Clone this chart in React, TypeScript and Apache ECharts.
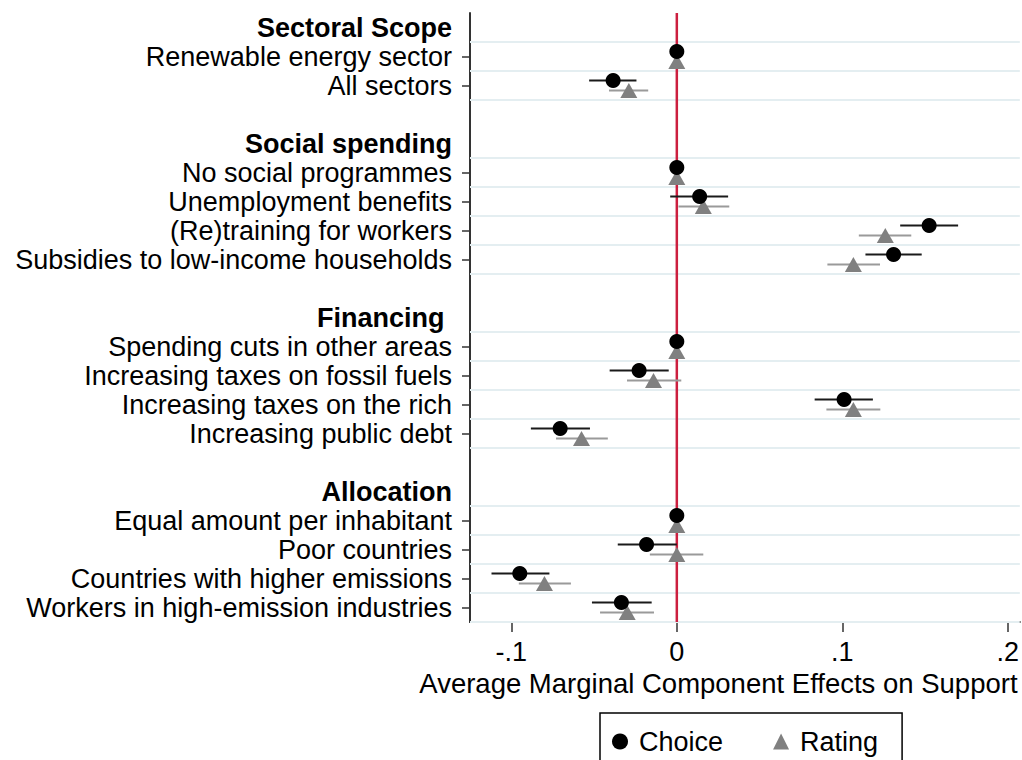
import React, { useEffect, useRef } from "react";
import * as echarts from "echarts";

// ---------- data ----------
const groupTitles = ["Sectoral Scope", "Social spending", "Financing ", "Allocation"];
const groupItems = [
  ["Renewable energy sector", "All sectors"],
  ["No social programmes", "Unemployment benefits", "(Re)training for workers", "Subsidies to low-income households"],
  ["Spending cuts in other areas", "Increasing taxes on fossil fuels", "Increasing taxes on the rich", "Increasing public debt"],
  ["Equal amount per inhabitant", "Poor countries", "Countries with higher emissions", "Workers in high-emission industries"],
];
const choiceEst = [[0, -0.0385], [0, 0.0138, 0.1525, 0.131], [0, -0.0228, 0.1011, -0.0705], [0, -0.0183, -0.0949, -0.0335]];
const choiceLo = [[null, -0.053], [null, -0.004, 0.135, 0.114], [null, -0.0406, 0.0833, -0.0882], [null, -0.0357, -0.112, -0.0513]];
const choiceHi = [[null, -0.0244], [null, 0.031, 0.17, 0.148], [null, -0.0049, 0.1185, -0.0525], [null, 0, -0.077, -0.0152]];
const ratingEst = [[0, -0.029], [0, 0.016, 0.126, 0.1067], [0, -0.0141, 0.1067, -0.0576], [0, 0, -0.08, -0.03]];
const ratingLo = [[null, -0.041], [null, 0.001, 0.11, 0.091], [null, -0.0301, 0.0904, -0.073], [null, -0.0163, -0.0955, -0.0464]];
const ratingHi = [[null, -0.0173], [null, 0.0317, 0.1417, 0.1228], [null, 0.0027, 0.123, -0.0417], [null, 0.016, -0.064, -0.0138]];
const xTickValues = [-0.1, 0, 0.1, 0.2];
const xTickLabels = ["-.1", "0", ".1", ".2"];
const seriesNames = ["Choice", "Rating"];
const xTitle = "Average Marginal Component Effects on Support";

// ---------- layout helpers ----------
const DODGE = 0.17;
const FONT = "'Liberation Sans', Arial, Helvetica, sans-serif";

type Row = { key: string; type: "header" | "item" | "blank"; label: string };

function buildRows() {
  const rows: Row[] = [];
  const choicePts: number[][] = [];
  const ratingPts: number[][] = [];
  const choiceBars: number[][] = [];
  const ratingBars: number[][] = [];
  const grid: number[] = [];
  groupTitles.forEach((t, g) => {
    if (g > 0) rows.push({ key: "blank" + g, type: "blank", label: "" });
    rows.push({ key: "h" + g, type: "header", label: t });
    const first = rows.length;
    groupItems[g].forEach((lab, i) => {
      const r = rows.length;
      rows.push({ key: "i" + g + "_" + i, type: "item", label: lab });
      choicePts.push([choiceEst[g][i], r - DODGE]);
      ratingPts.push([ratingEst[g][i], r + DODGE]);
      if (choiceLo[g][i] !== null) choiceBars.push([choiceLo[g][i] as number, choiceHi[g][i] as number, r - DODGE]);
      if (ratingLo[g][i] !== null) ratingBars.push([ratingLo[g][i] as number, ratingHi[g][i] as number, r + DODGE]);
    });
    const last = rows.length - 1;
    for (let v = first - 0.5; v <= last + 0.5 + 1e-9; v += 1) grid.push(v);
  });
  return { rows, choicePts, ratingPts, choiceBars, ratingBars, grid };
}

export default function App() {
  const ref = useRef<HTMLDivElement>(null);
  useEffect(() => {
    if (!ref.current) return;
    const chart = echarts.init(ref.current, null, { renderer: "svg" });
    const { rows, choicePts, ratingPts, choiceBars, ratingBars, grid } = buildRows();
    const nRows = rows.length;

    const barRender = (color: string) => (params: any, api: any) => {
      const y = api.value(2);
      const p1 = api.coord([api.value(0), y]);
      const p2 = api.coord([api.value(1), y]);
      return {
        type: "line",
        shape: { x1: p1[0], y1: p1[1], x2: p2[0], y2: p2[1] },
        style: { stroke: color, lineWidth: 2 },
      };
    };

    const option: any = {
      animation: false,
      textStyle: { fontFamily: FONT },
      grid: { left: 470, right: 2, top: 13, bottom: 138, containLabel: false },
      legend: {
        data: seriesNames,
        left: 600,
        top: 713,
        orient: "horizontal",
        borderColor: "#000",
        borderWidth: 1.5,
        padding: [15, 24, 40, 12],
        itemGap: 50,
        itemWidth: 16,
        itemHeight: 16,
        textStyle: { fontSize: 27, color: "#000", fontFamily: FONT, padding: [0, 0, 0, 6] },
      },
      xAxis: {
        type: "value",
        min: -0.125,
        max: 0.2073,
        axisLine: { show: true, onZero: false, lineStyle: { color: "#333", width: 2 } },
        axisTick: { show: true, customValues: xTickValues, length: 10, lineStyle: { color: "#333", width: 1.5 } },
        axisLabel: {
          customValues: xTickValues,
          fontSize: 27,
          color: "#000",
          margin: 16,
          formatter: (v: number) => {
            const i = xTickValues.findIndex((t) => Math.abs(t - v) < 1e-9);
            return i >= 0 ? xTickLabels[i] : "";
          },
        },
        splitLine: { show: false },
        name: xTitle,
        nameLocation: "middle",
        nameGap: 44,
        nameTextStyle: { fontSize: 27.5, color: "#000", padding: [0, 53, 0, 0] },
      },
      yAxis: [
        {
          type: "category",
          data: rows.map((r) => r.key),
          inverse: true,
          boundaryGap: true,
          axisLine: { show: true, onZero: false, lineStyle: { color: "#333", width: 2 } },
          axisTick: {
            show: true,
            alignWithLabel: true,
            length: 8,
            interval: (idx: number) => rows[idx] && rows[idx].type === "item",
            lineStyle: { color: "#333", width: 1.5 },
          },
          axisLabel: {
            interval: 0,
            margin: 18,
            formatter: (_v: string, idx: number) => {
              const r = rows[idx];
              if (!r) return "";
              if (r.type === "header") return "{h|" + r.label + "}";
              if (r.type === "item") return "{n|" + r.label + "}";
              return "";
            },
            rich: {
              h: { fontWeight: "bold", fontSize: 27, color: "#000", fontFamily: FONT },
              n: { fontSize: 27, color: "#000", fontFamily: FONT },
            },
          },
          splitLine: { show: false },
        },
        {
          type: "value",
          min: -0.5,
          max: nRows - 0.5,
          inverse: true,
          show: false,
          axisLine: { onZero: false },
          splitLine: { show: false },
        },
      ],
      series: [
        {
          type: "custom",
          name: "grid",
          yAxisIndex: 1,
          z: 1,
          silent: true,
          data: grid.map((v) => [0, v]),
          encode: { x: 0, y: 1 },
          renderItem: (params: any, api: any) => {
            const cs = params.coordSys;
            const y = api.coord([0, api.value(1)])[1];
            return {
              type: "line",
              shape: { x1: cs.x, y1: y, x2: cs.x + cs.width, y2: y },
              style: { stroke: "#e4eef1", lineWidth: 2 },
            };
          },
        },
        {
          type: "custom",
          name: "zero",
          yAxisIndex: 1,
          z: 2,
          silent: true,
          data: [[0, -0.5, nRows - 0.5]],
          encode: { x: 0, y: [1, 2] },
          renderItem: (params: any, api: any) => {
            const p1 = api.coord([api.value(0), api.value(1)]);
            const p2 = api.coord([api.value(0), api.value(2)]);
            return {
              type: "line",
              shape: { x1: p1[0], y1: p1[1], x2: p2[0], y2: p2[1] },
              style: { stroke: "#cc1f3f", lineWidth: 2.5 },
            };
          },
        },
        {
          type: "custom",
          name: "Choice CI",
          yAxisIndex: 1,
          z: 3,
          data: choiceBars,
          encode: { x: [0, 1], y: 2 },
          renderItem: barRender("#1a1a1a"),
        },
        {
          type: "custom",
          name: "Rating CI",
          yAxisIndex: 1,
          z: 3,
          data: ratingBars,
          encode: { x: [0, 1], y: 2 },
          renderItem: barRender("#9a9a9a"),
        },
        {
          type: "scatter",
          name: seriesNames[1],
          yAxisIndex: 1,
          z: 4,
          symbol: "triangle",
          symbolSize: [17, 15],
          itemStyle: { color: "#808080", opacity: 1 },
          data: ratingPts,
        },
        {
          type: "scatter",
          name: seriesNames[0],
          yAxisIndex: 1,
          z: 5,
          symbol: "circle",
          symbolSize: 15,
          itemStyle: { color: "#000", opacity: 1 },
          data: choicePts,
        },
      ],
    };
    chart.setOption(option);
    return () => chart.dispose();
  }, []);

  return (
    <div
      ref={ref}
      style={{ position: "absolute", left: 0, top: 0, width: 1022, height: 760, background: "#fff" }}
    />
  );
}
